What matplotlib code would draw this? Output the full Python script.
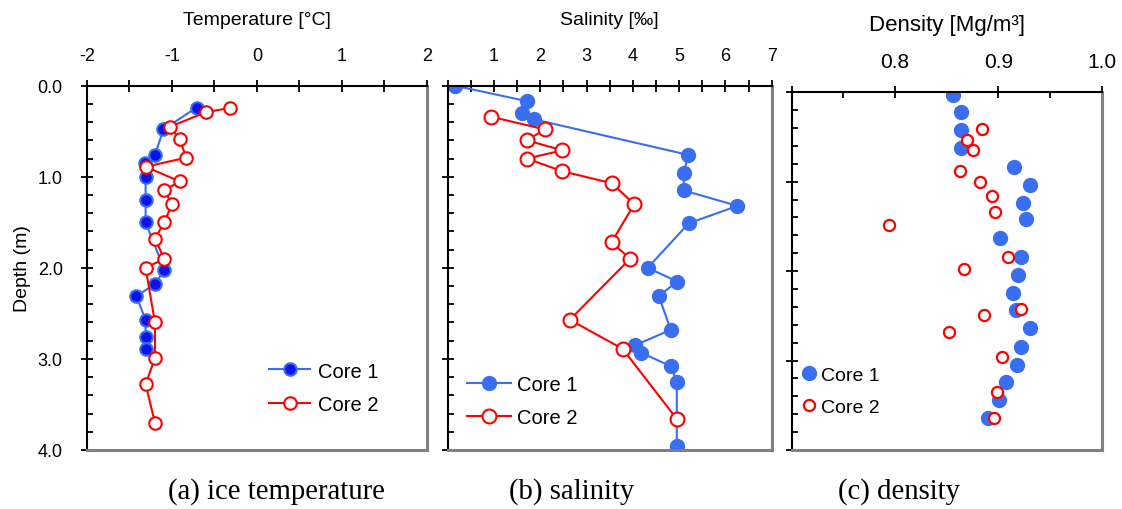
import matplotlib
matplotlib.use('Agg')
import matplotlib.pyplot as plt
from matplotlib.ticker import MultipleLocator, FuncFormatter

plt.rcParams['font.family'] = ['Liberation Sans', 'DejaVu Sans']
plt.rcParams['axes.unicode_minus'] = False

# ice temperature
temp1_depth = [0.24, 0.48, 0.76, 0.85, 1.0, 1.25, 1.5, 2.02, 2.18, 2.31, 2.57, 2.76, 2.89]
temp1_val = [-0.71, -1.10, -1.20, -1.32, -1.31, -1.31, -1.31, -1.09, -1.20, -1.42, -1.31, -1.31, -1.31]
temp2_depth = [0.245, 0.29, 0.45, 0.59, 0.79, 0.89, 1.05, 1.15, 1.30, 1.50, 1.68, 1.90, 2.00,
               2.60, 2.99, 3.28, 3.70]
temp2_val = [-0.32, -0.60, -1.02, -0.91, -0.83, -1.31, -0.91, -1.09, -1.00, -1.09, -1.20, -1.09,
             -1.31, -1.20, -1.20, -1.31, -1.20]

# salinity
sal1_depth = [0.0, 0.17, 0.30, 0.37, 0.76, 0.96, 1.15, 1.32, 1.51, 2.00, 2.15, 2.31, 2.68,
              2.85, 2.93, 3.08, 3.25, 3.96]
sal1_val = [0.16, 1.71, 1.60, 1.87, 5.20, 5.10, 5.10, 6.26, 5.21, 4.32, 4.96, 4.56, 4.82,
            4.05, 4.17, 4.82, 4.95, 4.95]
sal2_depth = [0.34, 0.48, 0.60, 0.71, 0.80, 0.94, 1.07, 1.30, 1.72, 1.90, 2.57, 2.89, 3.66]
sal2_val = [0.93, 2.10, 1.71, 2.48, 1.71, 2.48, 3.54, 4.03, 3.54, 3.94, 2.64, 3.78, 4.95]

# density
dens1_depth = [0.03, 0.22, 0.42, 0.62, 0.83, 1.04, 1.24, 1.42, 1.63, 1.84, 2.04, 2.25, 2.43,
               2.64, 2.85, 3.05, 3.24, 3.44, 3.64]
dens1_val = [0.856, 0.864, 0.864, 0.864, 0.915, 0.931, 0.924, 0.927, 0.902, 0.922, 0.919,
             0.914, 0.917, 0.931, 0.922, 0.918, 0.907, 0.901, 0.890]
dens2_depth = [0.41, 0.53, 0.65, 0.88, 1.00, 1.16, 1.34, 1.48, 1.84, 1.98, 2.42, 2.49, 2.68,
               2.96, 3.35, 3.64]
dens2_val = [0.884, 0.870, 0.875, 0.863, 0.882, 0.894, 0.897, 0.794, 0.909, 0.867, 0.922,
             0.886, 0.852, 0.904, 0.899, 0.896]

BLUE = '#3a6ef0'
RED = '#ff0000'
GRAY = '#808080'

fig = plt.figure(figsize=(11.22, 5.10), dpi=100)
ax1 = fig.add_axes([0.0775, 0.1157, 0.3030, 0.7143])
ax2 = fig.add_axes([0.3990, 0.1157, 0.2888, 0.7143])
ax3 = fig.add_axes([0.7056, 0.1157, 0.2763, 0.7014])


def style(ax, xlim, xmaj, xmin, ylabels, minor_inout, fs, pad):
    ax.set_xlim(*xlim)
    ax.set_ylim(4.0, 0.0)
    ax.xaxis.tick_top()
    ax.xaxis.set_label_position('top')
    ax.xaxis.set_major_locator(MultipleLocator(xmaj))
    ax.xaxis.set_minor_locator(MultipleLocator(xmin))
    ax.yaxis.set_major_locator(MultipleLocator(1.0))
    ax.yaxis.set_minor_locator(MultipleLocator(0.2))
    ax.yaxis.set_major_formatter(FuncFormatter(lambda v, p: '%.1f' % v))
    for s in ['top', 'left']:
        ax.spines[s].set_color('black')
        ax.spines[s].set_linewidth(1.5)
    for s in ['bottom', 'right']:
        ax.spines[s].set_color(GRAY)
        ax.spines[s].set_linewidth(2.2)
    ax.tick_params(axis='x', which='major', direction='inout', length=9, width=1.3,
                   labelsize=fs, pad=pad)
    ax.tick_params(axis='x', which='minor', direction='inout' if minor_inout else 'in',
                   length=9 if minor_inout else 4.5, width=1.3)
    ax.tick_params(axis='y', which='major', direction='inout', length=9, width=1.3,
                   labelsize=13, pad=13, labelleft=ylabels)
    ax.tick_params(axis='y', which='minor', direction='in', length=4, width=1.3)


style(ax1, (-2, 2), 1, 0.5, True, True, 13, 11)
style(ax2, (0, 7), 1, 0.5, False, True, 13, 11)
style(ax3, (0.7, 1.0), 0.1, 0.05, False, False, 15, 10.5)

ax2.xaxis.set_major_formatter(FuncFormatter(lambda v, p: '' if abs(v) < 1e-9 else '%d' % round(v)))
ax3.xaxis.set_major_formatter(FuncFormatter(lambda v, p: '' if v < 0.75 else '%.1f' % v))

# panel (a)
ax1.plot(temp1_val, temp1_depth, '-o', color=BLUE, lw=1.5, ms=9,
         mfc='#0a14e6', mec=BLUE, mew=1.5, label='Core 1')
ax1.plot(temp2_val, temp2_depth, '-o', color=RED, lw=1.5, ms=9,
         mfc='white', mec=RED, mew=1.5, label='Core 2')
ax1.set_xlabel('Temperature [\u00b0C]', fontsize=14, labelpad=17)
ax1.set_ylabel('Depth (m)', fontsize=14, labelpad=5)
ax1.legend(loc='upper left', bbox_to_anchor=(0.512, 0.265), frameon=False, fontsize=14.5,
           handlelength=2.05, handletextpad=0.4, labelspacing=0.72, borderaxespad=0)

# panel (b)
ax2.plot(sal1_val, sal1_depth, '-o', color=BLUE, lw=1.5, ms=10,
         mfc=BLUE, mec=BLUE, label='Core 1')
ax2.plot(sal2_val, sal2_depth, '-o', color=RED, lw=1.5, ms=10,
         mfc='white', mec=RED, mew=1.5, label='Core 2')
ax2.set_xlabel('Salinity [\u2030]', fontsize=14, labelpad=17)
ax2.legend(loc='upper left', bbox_to_anchor=(0.036, 0.228), frameon=False, fontsize=14.5,
           handlelength=2.15, handletextpad=0.3, labelspacing=0.68, borderaxespad=0)

# panel (c)
ax3.plot(dens1_val, dens1_depth, 'o', ms=10, mfc=BLUE, mec=BLUE, label='Core 1')
ax3.plot(dens2_val, dens2_depth, 'o', ms=8, mfc='white', mec=RED, mew=1.6, label='Core 2')
ax3.set_xlabel('Density [Mg/m\u00b3]', fontsize=16, labelpad=16.5)
ax3.legend(loc='upper left', bbox_to_anchor=(-0.006, 0.267), frameon=False, fontsize=14,
           handlelength=0.8, handletextpad=0.2, labelspacing=0.75, borderaxespad=0.2)

for xc, txt in [(276, '(a) ice temperature'), (572, '(b) salinity'), (899, '(c) density')]:
    fig.text(xc / 1122, 1 - 492 / 510, txt, ha='center', va='center',
             family=['Liberation Serif', 'DejaVu Serif'], fontsize=20.7)

fig.savefig('out.png', dpi=100)
